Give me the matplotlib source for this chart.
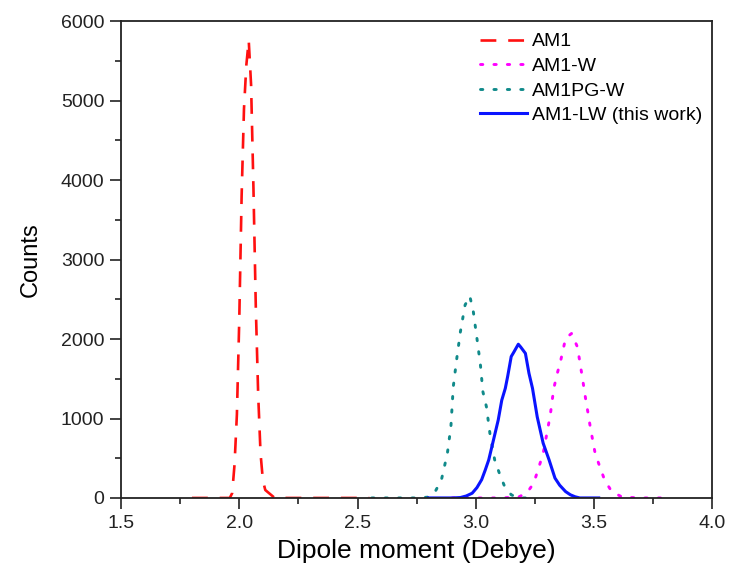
import matplotlib
matplotlib.use("Agg")
import matplotlib.pyplot as plt
from matplotlib.ticker import MultipleLocator

plt.rcParams['font.family'] = ['Liberation Sans', 'DejaVu Sans']

# AM1
am1_x = [1.80, 1.90, 1.96, 1.97, 1.98, 1.99, 2.00, 2.01, 2.02, 2.03, 2.04,
         2.05, 2.06, 2.07, 2.08, 2.09, 2.10, 2.11, 2.13, 2.15, 2.30, 2.55]
am1_y = [0, 0, 0, 60, 420, 1050, 2240, 3800, 4900, 5450, 5760,
         5200, 3900, 2400, 1300, 560, 220, 100, 50, 0, 0, 0]

# AM1-W
am1w_x = [2.90, 3.10, 3.18, 3.20, 3.22, 3.245, 3.265, 3.285, 3.305, 3.315, 3.33,
          3.345, 3.36, 3.38, 3.405, 3.43, 3.44, 3.45, 3.465, 3.475, 3.485,
          3.505, 3.525, 3.545, 3.575, 3.62, 3.70, 3.82]
am1w_y = [0, 0, 10, 40, 80, 185, 370, 560, 880, 1040, 1380,
          1570, 1740, 2010, 2070, 1900, 1715, 1530, 1240, 1065, 880,
          560, 390, 225, 80, 10, 0, 0]

# AM1PG-W
am1pg_x = [2.56, 2.75, 2.80, 2.825, 2.855, 2.88, 2.895, 2.905, 2.92, 2.935, 2.955,
           2.975, 2.99, 3.005, 3.02, 3.03, 3.045, 3.06, 3.08, 3.10, 3.12,
           3.15, 3.18, 3.25]
am1pg_y = [0, 0, 10, 60, 230, 560, 900, 1400, 1760, 2090, 2430,
           2540, 2340, 2010, 1670, 1340, 1150, 810, 480, 310, 160,
           40, 0, 0]

# AM1-LW (this work)
am1lw_x = [2.80, 2.90, 2.935, 2.96, 2.985, 3.005, 3.025, 3.04, 3.055, 3.075, 3.095,
           3.11, 3.125, 3.135, 3.15, 3.16, 3.18, 3.19, 3.21, 3.225, 3.24,
           3.26, 3.285, 3.31, 3.335, 3.355, 3.38, 3.40, 3.42, 3.44, 3.52]
am1lw_y = [0, 0, 5, 25, 60, 130, 230, 350, 480, 730, 980,
           1230, 1380, 1530, 1780, 1830, 1935, 1900, 1820, 1570, 1380,
           1020, 690, 480, 250, 160, 80, 40, 15, 0, 0]

xticks = [1.5, 2.0, 2.5, 3.0, 3.5, 4.0]
yticks = [0, 1000, 2000, 3000, 4000, 5000, 6000]

fig = plt.figure(figsize=(7.29, 5.75), dpi=100)
ax = fig.add_axes([0.166, 0.134, 0.811, 0.829])

dot = (0, (0.8, 3.8))
ax.plot(am1_x, am1_y, color='#FF1010', lw=1.9, dashes=(6, 4.5), label='AM1')
ax.plot(am1w_x, am1w_y, color='#FF00FF', lw=2.1, linestyle=dot,
        dash_capstyle='round', label='AM1-W')
ax.plot(am1pg_x, am1pg_y, color='#108A8A', lw=2.1, linestyle=dot,
        dash_capstyle='round', label='AM1PG-W')
ax.plot(am1lw_x, am1lw_y, color='#0A14FF', lw=2.2, label='AM1-LW (this work)')

ax.set_xlim(1.5, 4.0)
ax.set_ylim(0, 6000)
ax.set_xticks(xticks)
ax.set_xticklabels([f"{t:.1f}" for t in xticks])
ax.set_yticks(yticks)
ax.set_yticklabels([str(t) for t in yticks])
ax.xaxis.set_minor_locator(MultipleLocator(0.25))
ax.yaxis.set_minor_locator(MultipleLocator(500))
ax.tick_params(which='major', direction='out', length=8, width=1.2,
               labelsize=14, colors='#222222', pad=4)
ax.tick_params(which='minor', direction='out', length=4.5, width=1.2,
               colors='#222222')
ax.tick_params(top=False, right=False, which='both')
for s in ax.spines.values():
    s.set_linewidth(1.3)
    s.set_color('#222222')

ax.set_xlabel('Dipole moment (Debye)', fontsize=19, labelpad=5)
ax.set_ylabel('Counts', fontsize=17, labelpad=14)

leg = ax.legend(loc='upper left', bbox_to_anchor=(0.607, 0.976), frameon=False,
                fontsize=14, handlelength=2.4, handletextpad=0.26,
                labelspacing=0.36, borderpad=0, borderaxespad=0)

fig.savefig('out.png', dpi=100)
